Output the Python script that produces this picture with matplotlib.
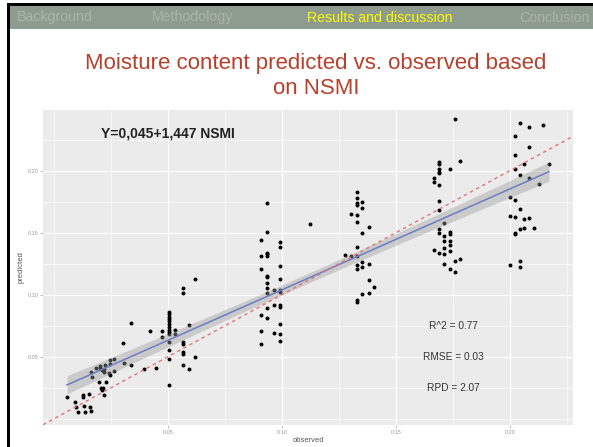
import numpy as np
import matplotlib
matplotlib.use('Agg')
import matplotlib.pyplot as plt
from matplotlib.patches import Rectangle
from matplotlib.ticker import MultipleLocator, FormatStrFormatter

plt.rcParams['font.family'] = ['Liberation Sans', 'DejaVu Sans']

# ---------------- data (observed, predicted) ----------------
c1_obs = [0.0056, 0.0092, 0.0096, 0.0102, 0.0129, 0.0126, 0.0126, 0.0133, 0.0154, 0.0158, 0.0160,
          0.0194, 0.0165, 0.0162, 0.0184, 0.0202, 0.0209, 0.0219, 0.0216, 0.0202, 0.0224, 0.0243,
          0.0263, 0.0246, 0.0260, 0.0238, 0.0243, 0.0228, 0.0206, 0.0214, 0.0209, 0.0216, 0.0301,
          0.0304, 0.0336, 0.0336, 0.0392, 0.0421, 0.0446, 0.0472, 0.0472]
c1_pred = [0.0171, 0.0135, 0.0090, 0.0056, 0.0101, 0.0190, 0.0171, 0.0056, 0.0198, 0.0090, 0.0059,
           0.0298, 0.0332, 0.0377, 0.0407, 0.0405, 0.0391, 0.0397, 0.0377, 0.0423, 0.0431, 0.0472,
           0.0477, 0.0437, 0.0385, 0.0365, 0.0353, 0.0298, 0.0250, 0.0250, 0.0230, 0.0190, 0.0606,
           0.0450, 0.0768, 0.0429, 0.0397, 0.0706, 0.0405, 0.0706, 0.0655]

c2_obs = [0.0501] * 14 + [0.0528] * 2 + [0.0563] * 7 + [0.0592] * 2 + [0.0618] * 2
c2_pred = [0.0861, 0.0843, 0.0821, 0.0802, 0.0784, 0.0762, 0.0740, 0.0714, 0.0700, 0.0679, 0.0619,
           0.0552, 0.0477, 0.0270,
           0.0714, 0.0684,
           0.0615, 0.0598, 0.0534, 0.0520, 0.0431, 0.1050, 0.1010,
           0.0399, 0.0754,
           0.0498, 0.1125]

c3_obs = [0.0907] * 6 + [0.0933] * 12 + [0.0962] * 3 + [0.0988] * 11 + [0.1120]
c3_pred = [0.1440, 0.1310, 0.1206, 0.0837, 0.0603, 0.0708,
           0.1740, 0.1506, 0.1337, 0.1324, 0.1308, 0.1152, 0.1144, 0.1095, 0.1050, 0.1010, 0.0894, 0.0813,
           0.1036, 0.0915, 0.0692,
           0.1421, 0.1381, 0.1232, 0.1125, 0.1036, 0.1018, 0.0915, 0.0902, 0.0760, 0.0679, 0.0627,
           0.1569]

c4_obs = [0.1276] + [0.1303] * 2 + [0.1328] * 12 + [0.1352] * 6 + [0.1379] * 4 + [0.1402]
c4_pred = [0.1316,
           0.1649, 0.1310,
           0.1827, 0.1776, 0.1735, 0.1719, 0.1641, 0.1582, 0.1385, 0.1310, 0.1235, 0.1206, 0.0956, 0.0940,
           0.1748, 0.1698, 0.1496, 0.1265, 0.1219, 0.1004,
           0.1542, 0.1248, 0.1117, 0.1010,
           0.1063]

c5_obs = [0.1664] * 3 + [0.1689] * 11 + [0.1711] * 6 + [0.1734] * 7 + [0.1757] * 3 + [0.1778] * 2
c5_pred = [0.1937, 0.1910, 0.1359,
           0.2071, 0.2052, 0.2010, 0.1991, 0.1977, 0.1885, 0.1754, 0.1681, 0.1526, 0.1498, 0.1332,
           0.1579, 0.1472, 0.1431, 0.1377, 0.1324, 0.1246,
           0.2012, 0.1506, 0.1488, 0.1431, 0.1399, 0.1353, 0.1203,
           0.2415, 0.1270, 0.1179,
           0.2077, 0.1286]

c6_obs = ([0.2000] * 3 + [0.2021] * 7 + [0.2043] * 6 + [0.2063] * 3 + [0.2085] * 4 +
          [0.2104, 0.2126, 0.2146, 0.2170])
c6_pred = [0.1784, 0.1633, 0.1235,
           0.2278, 0.2127, 0.2010, 0.1762, 0.1627, 0.1498, 0.1488,
           0.2385, 0.1961, 0.1690, 0.1526, 0.1270, 0.1224,
           0.2052, 0.1609, 0.1536,
           0.2348, 0.2187, 0.1940, 0.1615,
           0.1536, 0.1891, 0.2369, 0.2052]

x_ticks = [0.05, 0.10, 0.15, 0.20]
y_ticks = [0.05, 0.10, 0.15, 0.20]
tabs = ['Background', 'Methodology', 'Results and discussion', 'Conclusion']
active_tab = 'Results and discussion'
title = 'Moisture content predicted vs. observed based\non NSMI'
equation = 'Y=0,045+1,447 NSMI'
stats_labels = ['R^2 = 0.77', 'RMSE = 0.03', 'RPD = 2.07']
stats_y = [0.075, 0.05, 0.025]

obs = np.array(c1_obs + c2_obs + c3_obs + c4_obs + c5_obs + c6_obs)
pred = np.array(c1_pred + c2_pred + c3_pred + c4_pred + c5_pred + c6_pred)

# ---------------- figure ----------------
W, H = 593, 447
fig = plt.figure(figsize=(W / 100, H / 100), dpi=100)
fig.patch.set_facecolor('white')


def fx(px):
    return px / W


def fy(py):
    return 1 - py / H


# slide frame and navigation bar
fig.patches.append(Rectangle((fx(7), fy(29)), 1 - fx(7), 23 / H, transform=fig.transFigure,
                             facecolor='#8E9B8F', edgecolor='none', zorder=0))
fig.patches.append(Rectangle((fx(7), fy(6)), 1 - fx(7), 3 / H, transform=fig.transFigure,
                             facecolor='black', edgecolor='none', zorder=1))
fig.patches.append(Rectangle((fx(7), 0), 3 / W, fy(3), transform=fig.transFigure,
                             facecolor='black', edgecolor='none', zorder=1))

tab_x = [17, 152, 307, 519]
for label, px in zip(tabs, tab_x):
    fig.text(fx(px), fy(17.5), label, ha='left', va='center', fontsize=10.2,
             color='#FFFF00' if label == active_tab else '#AAB5AA')

fig.text(fx(316), fy(76), title, ha='center', va='center', fontsize=16,
         color='#B83F2C', linespacing=1.22)

# ---------------- plot panel ----------------
ax = fig.add_axes([fx(43), fy(425), (573 - 43) / W, (425 - 110) / H])
ax.set_facecolor('#EBEBEB')
for s in ax.spines.values():
    s.set_visible(False)

ax.set_xlim(-0.005, 0.2276)
ax.set_ylim(-0.0052, 0.2488)
ax.xaxis.set_minor_locator(MultipleLocator(0.025))
ax.yaxis.set_minor_locator(MultipleLocator(0.025))
ax.set_xticks(x_ticks)
ax.set_yticks(y_ticks)
ax.xaxis.set_major_formatter(FormatStrFormatter('%.2f'))
ax.yaxis.set_major_formatter(FormatStrFormatter('%.2f'))
ax.grid(which='major', color='white', lw=0.8)
ax.grid(which='minor', color='white', lw=0.4)
ax.set_axisbelow(True)
ax.tick_params(which='major', length=2, width=0.5, color='#AAAAAA', labelsize=4,
               labelcolor='#9A9A9A', pad=1.5)
ax.tick_params(which='minor', length=0)
ax.set_xlabel('observed', fontsize=5.5, color='#555555', labelpad=1.5)
ax.set_ylabel('predicted', fontsize=5.5, color='#555555', labelpad=2)

# points
ax.scatter(obs, pred, s=8, c='black', linewidths=0, zorder=2)

# linear fit with 95% confidence band (as geom_smooth(method='lm'))
slope, intercept = np.polyfit(obs, pred, 1)
n = len(obs)
resid = pred - (intercept + slope * obs)
s_err = np.sqrt(np.sum(resid ** 2) / (n - 2))
xs = np.linspace(obs.min(), obs.max(), 100)
ys = intercept + slope * xs
se = s_err * np.sqrt(1 / n + (xs - obs.mean()) ** 2 / np.sum((obs - obs.mean()) ** 2))
ax.fill_between(xs, ys - 1.97 * se, ys + 1.97 * se, color='#999999', alpha=0.4, lw=0, zorder=3)
ax.plot(xs, ys, color='#6C7CC4', lw=1.1, zorder=4)

# 1:1 line
ax.axline((0, 0), slope=1, color='#E07575', lw=1.0, ls=(0, (2.5, 2.5)), zorder=5)

# annotations
ax.text(0.05, 0.23, equation, ha='center', va='center', fontsize=10, fontweight='bold',
        color='#222222', zorder=6)
for lab, yv in zip(stats_labels, stats_y):
    ax.text(0.175, yv, lab, ha='center', va='center', fontsize=7.3, color='#333333', zorder=6)

fig.savefig('out.png', dpi=100)
